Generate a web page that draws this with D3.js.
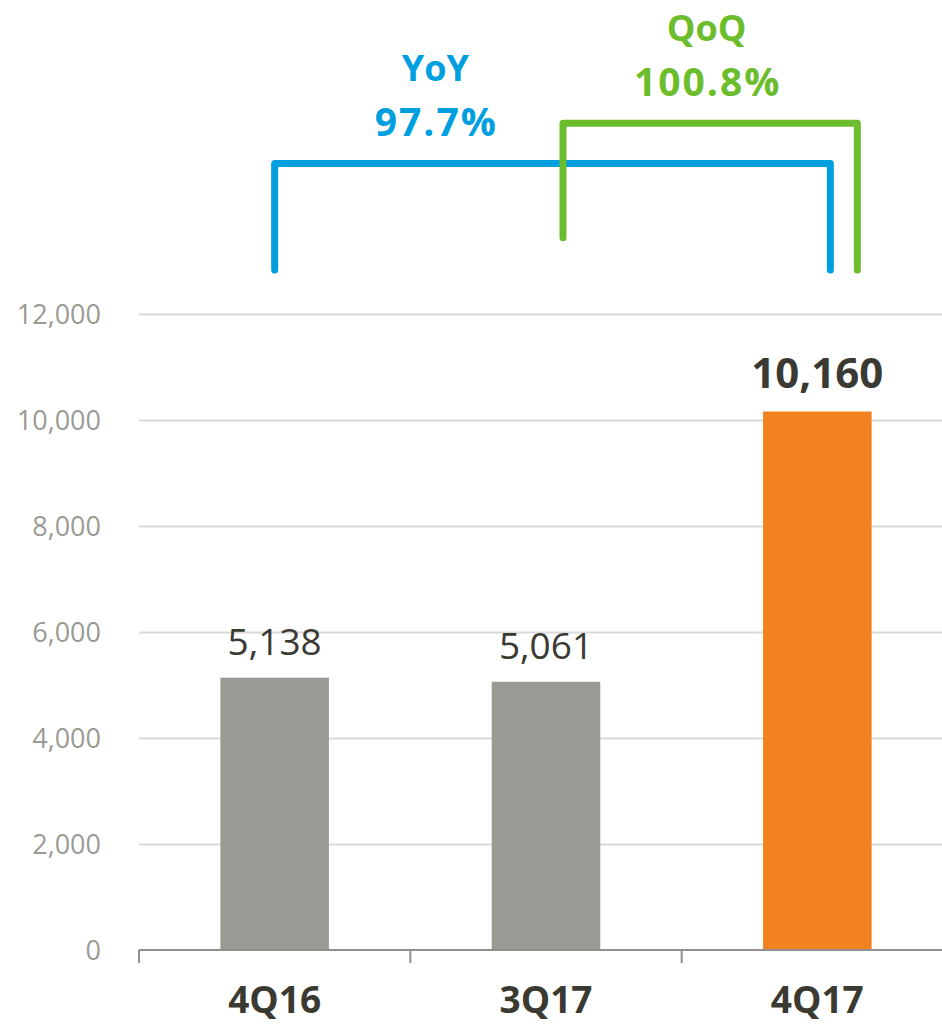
<html>
<head>
<meta charset="utf-8">
<style>
  body { margin: 0; background: #fff; }
  svg text { font-family: "Open Sans", sans-serif; }
  .grid line { stroke: #d9d9d9; stroke-width: 2; }
  .grid path { display: none; }
  .axis--y text { fill: #9a9a94; font-size: 27px; }
  .axis--y path, .axis--y line { display: none; }
  .axis--x text { fill: #3a3a33; font-size: 37px; font-weight: bold; }
  .bracket { fill: none; stroke-width: 7; stroke-linecap: round; stroke-linejoin: round; }
</style>
<script src="https://d3js.org/d3.v7.min.js"></script>
</head>
<body>
<svg width="942" height="1025"></svg>
<script>
// chart data
var quarters = ['4Q16', '3Q17', '4Q17'];
var revenue = [5138, 5061, 10160];
var barColors = ['#9a9a94', '#9a9a94', '#f28220'];
var yTicks = [0, 2000, 4000, 6000, 8000, 10000, 12000];

// growth annotations
var growthNames = ['YoY', 'QoQ'];
var growthValues = ['97.7%', '100.8%'];
var growthFrom = ['4Q16', '3Q17'];
var growthTo = ['4Q17', '4Q17'];
var growthColors = ['#00a0e0', '#6bbd2b'];

var svg = d3.select('svg');
var margin = { left: 139, right: -11, top: 314, bottom: 75 };
var width = +svg.attr('width') - margin.left - margin.right;
var height = +svg.attr('height') - margin.top - margin.bottom;

var x = d3.scaleBand().domain(quarters).range([0, width])
    .paddingInner(0.6).paddingOuter(0.3);
var y = d3.scaleLinear().domain([0, 12000]).range([height, 0]);

var g = svg.append('g').attr('transform', 'translate(' + margin.left + ',' + margin.top + ')');

// gridlines
g.append('g').attr('class', 'grid')
    .call(d3.axisLeft(y).tickValues(yTicks.slice(1)).tickSize(-width).tickFormat(''));

// y axis labels
g.append('g').attr('class', 'axis axis--y')
    .call(d3.axisLeft(y).tickValues(yTicks).tickSize(0).tickPadding(38).tickFormat(d3.format(',')))
    .selectAll('text').attr('dy', '0.35em');

// bars
g.selectAll('.bar').data(revenue).enter().append('rect')
    .attr('class', 'bar')
    .attr('x', function(d, i) { return x(quarters[i]); })
    .attr('y', function(d) { return y(d); })
    .attr('width', x.bandwidth())
    .attr('height', function(d) { return height - y(d); })
    .attr('fill', function(d, i) { return barColors[i]; });

// x axis: ticks on band edges
var xAxis = g.append('g').attr('class', 'axis axis--x')
    .attr('transform', 'translate(0,' + height + ')');
xAxis.append('line').attr('x1', 0).attr('x2', width).attr('y1', 0).attr('y2', 0)
    .attr('stroke', '#8f8f8f').attr('stroke-width', 2);
xAxis.selectAll('.edge').data(quarters).enter().append('line')
    .attr('class', 'edge')
    .attr('x1', function(d) { return x(d) - x.step() * x.paddingOuter(); })
    .attr('x2', function(d) { return x(d) - x.step() * x.paddingOuter(); })
    .attr('y1', 0).attr('y2', 13)
    .attr('stroke', '#8f8f8f').attr('stroke-width', 2);
xAxis.selectAll('.cat').data(quarters).enter().append('text')
    .attr('class', 'cat')
    .attr('x', function(d) { return x(d) + x.bandwidth() / 2; })
    .attr('y', 63)
    .attr('text-anchor', 'middle')
    .text(function(d) { return d; });

// value labels
g.selectAll('.val').data(revenue).enter().append('text')
    .attr('class', 'val')
    .attr('x', function(d, i) { return x(quarters[i]) + x.bandwidth() / 2; })
    .attr('y', function(d, i) { return y(d) - (i === 2 ? 24 : 23); })
    .attr('text-anchor', 'middle')
    .attr('fill', '#3a3a33')
    .attr('font-size', function(d, i) { return i === 2 ? '42px' : '37px'; })
    .attr('font-weight', function(d, i) { return i === 2 ? 'bold' : 'normal'; })
    .text(function(d) { return d3.format(',')(d); });

// growth brackets (layout: top, left foot, right foot in value units; offsets in px)
var bracketTop = [14840, 15600];
var footFrom = [12830, 13440];
var footTo = [12830, 12830];
var offFrom = [0, 17];
var offTo = [13, 40];
var cx = function(q) { return x(q) + x.bandwidth() / 2; };

growthNames.forEach(function(name, i) {
    var x0 = cx(growthFrom[i]) + offFrom[i];
    var x1 = cx(growthTo[i]) + offTo[i];
    var p = d3.path();
    p.moveTo(x0, y(footFrom[i]));
    p.lineTo(x0, y(bracketTop[i]));
    p.lineTo(x1, y(bracketTop[i]));
    p.lineTo(x1, y(footTo[i]));
    g.append('path').attr('class', 'bracket')
        .attr('d', p.toString())
        .attr('stroke', growthColors[i]);

    var lx = cx(growthFrom[i]) + x.step() * 0.592;
    var ly = y(bracketTop[i]) - 27;
    g.append('text').attr('x', lx).attr('y', ly - 55)
        .attr('text-anchor', 'middle').attr('fill', growthColors[i])
        .attr('font-size', '36px').attr('font-weight', 'bold')
        .text(name);
    g.append('text').attr('x', lx + 1).attr('y', ly)
        .attr('text-anchor', 'middle').attr('fill', growthColors[i])
        .attr('font-size', '39px').attr('font-weight', 'bold')
        .attr('letter-spacing', '2px')
        .text(growthValues[i]);
});
</script>
</body>
</html>
